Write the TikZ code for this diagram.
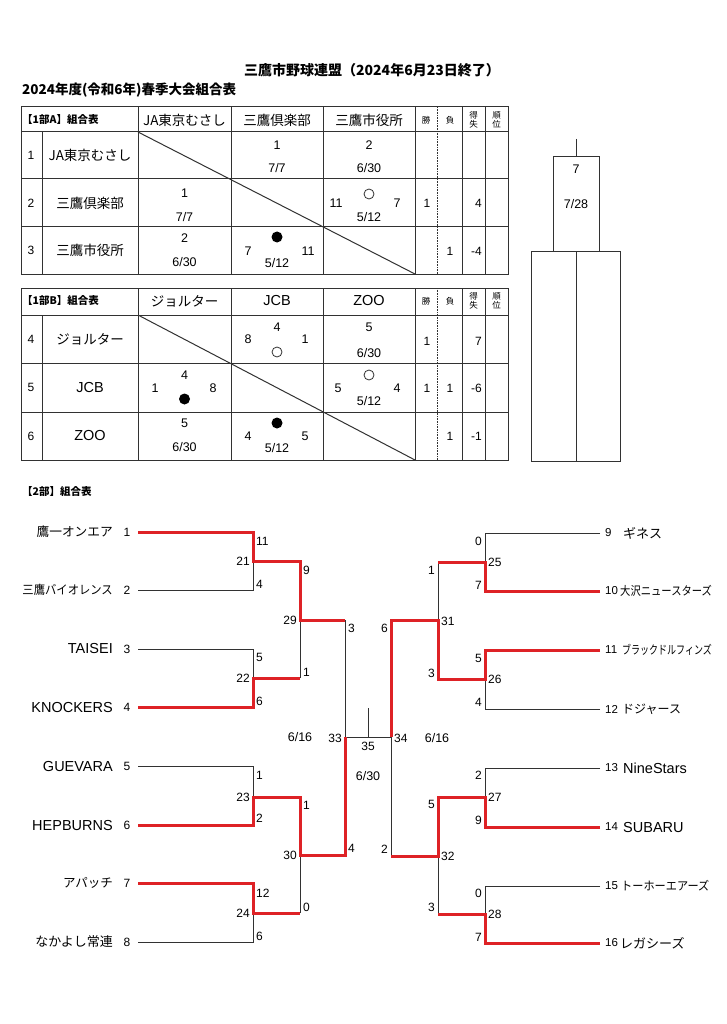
\documentclass[tikz,border=0pt]{standalone}
\usepackage{fontspec}
\setmainfont{Liberation Sans}
\newfontfamily\jp{Noto Sans CJK JP}
\definecolor{winred}{RGB}{222,34,38}
\definecolor{ink}{RGB}{50,50,50}
\newcommand{\cond}[2]{\scalebox{#1}[1]{#2}}
\begin{document}
\begin{tikzpicture}[x=1pt,y=-1pt,
  tline/.style={ink,line width=1pt},
  bline/.style={ink,line width=0.9pt},
  rline/.style={winred,line width=3pt,line join=miter},
  num/.style={inner sep=0pt,font=\fontsize{12}{13}\selectfont},
  tnum/.style={inner sep=0pt,font=\fontsize{11.5}{12}\selectfont},
  cnum/.style={inner sep=0pt,font=\fontsize{12.5}{13}\selectfont},
  jph/.style={inner sep=0pt,font=\jp\fontsize{13.5}{14}\selectfont},
  hdr/.style={inner sep=0pt,anchor=west,font=\jp\bfseries\fontsize{10.5}{11}\selectfont},
  tiny/.style={inner sep=0pt,font=\jp\fontsize{8.5}{9.5}\selectfont,align=center},
  lat/.style={inner sep=0pt,font=\fontsize{14.5}{15}\selectfont},
  opencirc/.style={circle,draw=ink,line width=0.8pt,minimum size=10pt,inner sep=0pt},
  fullcirc/.style={circle,fill=black,minimum size=11pt,inner sep=0pt},
]
\useasboundingbox (0,0) rectangle (727,1024);
\fill[white] (0,0) rectangle (727,1024);

% titles
\node[inner sep=0pt,font=\jp\bfseries\fontsize{14}{16}\selectfont] (title) at (372,70) {三鷹市野球連盟（2024年6月23日終了）};
\node[inner sep=0pt,anchor=west,font=\jp\bfseries\fontsize{13.5}{15}\selectfont] (sub) at (22,90) {2024年度(令和6年)春季大会組合表};

% ===== Table A =====
\draw[tline] (21,107) rectangle (508,274);
\foreach \yy in {132,179,227} \draw[tline] (21,\yy) -- (508,\yy);
\draw[tline] (42,132) -- (42,274);
\foreach \xx in {138,231,323,415,462,485} \draw[tline] (\xx,107) -- (\xx,274);
\draw[ink,line width=0.6pt,densely dotted] (437,107) -- (437,274);
\draw[tline] (138,132) -- (415,274);

\node[hdr] (ah) at (22,120) {【1部A】組合表};
\node[jph] (ac1) at (184.5,120) {JA東京むさし};
\node[jph] (ac2) at (277,120) {三鷹倶楽部};
\node[jph] (ac3) at (369,120) {三鷹市役所};
\node[tiny] (aw) at (426,120) {勝};
\node[tiny] (al) at (450,120) {負};
\node[tiny] (ad) at (473.5,120) {得\\[-1pt]失};
\node[tiny] (ar) at (496.5,120) {順\\[-1pt]位};
\node[num] (an1) at (31,155.5) {1};
\node[num] (an2) at (31,203) {2};
\node[num] (an3) at (31,250.5) {3};
\node[jph] (ar1) at (90,155.5) {JA東京むさし};
\node[jph] (ar2) at (90,203) {三鷹倶楽部};
\node[jph] (ar3) at (90,250.5) {三鷹市役所};
% row 1
\node[cnum] (a12a) at (277,145) {1};
\node[cnum] (a12b) at (277,168) {7/7};
\node[cnum] (a13a) at (369,145) {2};
\node[cnum] (a13b) at (369,168) {6/30};
% row 2
\node[cnum] (a21a) at (184.5,193) {1};
\node[cnum] (a21b) at (184.5,217) {7/7};
\node[opencirc] (a23c) at (369,194) {};
\node[cnum] (a23l) at (336,203) {11};
\node[cnum] (a23r) at (397,203) {7};
\node[cnum] (a23b) at (369,217) {5/12};
\node[num] (a2w) at (427,203) {1};
\node[num,anchor=east] (a2d) at (482,203) {4};
% row 3
\node[cnum] (a31a) at (184.5,238) {2};
\node[cnum] (a31b) at (184.5,262) {6/30};
\node[fullcirc] (a32c) at (277,237) {};
\node[cnum] (a32l) at (248,251) {7};
\node[cnum] (a32r) at (308,251) {11};
\node[cnum] (a32b) at (277,263) {5/12};
\node[num] (a3l) at (450,251) {1};
\node[num,anchor=east] (a3d) at (482,251) {-4};

% ===== Table B =====
\draw[tline] (21,288) rectangle (508,460);
\foreach \yy in {315,363,412} \draw[tline] (21,\yy) -- (508,\yy);
\draw[tline] (42,315) -- (42,460);
\foreach \xx in {138,231,323,415,462,485} \draw[tline] (\xx,288) -- (\xx,460);
\draw[ink,line width=0.6pt,densely dotted] (437,288) -- (437,460);
\draw[tline] (138,315) -- (415,460);

\node[hdr] (bh) at (22,301) {【1部B】組合表};
\node[jph] (bc1) at (184.5,301) {ジョルター};
\node[lat] (bc2) at (277,301) {JCB};
\node[lat] (bc3) at (369,301) {ZOO};
\node[tiny] (bw) at (426,301) {勝};
\node[tiny] (bl) at (450,301) {負};
\node[tiny] (bd) at (473.5,301) {得\\[-1pt]失};
\node[tiny] (br) at (496.5,301) {順\\[-1pt]位};
\node[num] (bn4) at (31,339) {4};
\node[num] (bn5) at (31,387.5) {5};
\node[num] (bn6) at (31,436) {6};
\node[jph] (br4) at (90,339) {ジョルター};
\node[lat] (br5) at (90,387.5) {JCB};
\node[lat] (br6) at (90,436) {ZOO};
% row 4
\node[cnum] (b45a) at (277,327) {4};
\node[cnum] (b45l) at (248,339) {8};
\node[cnum] (b45r) at (305,339) {1};
\node[opencirc] (b45c) at (277,352) {};
\node[cnum] (b46a) at (369,327) {5};
\node[cnum] (b46b) at (369,353) {6/30};
\node[num] (b4w) at (427,341) {1};
\node[num,anchor=east] (b4d) at (482,341) {7};
% row 5
\node[cnum] (b54a) at (184.5,375) {4};
\node[cnum] (b54l) at (155,388) {1};
\node[cnum] (b54r) at (213,388) {8};
\node[fullcirc] (b54c) at (184.5,399) {};
\node[opencirc] (b56c) at (369,375) {};
\node[cnum] (b56l) at (338,388) {5};
\node[cnum] (b56r) at (397,388) {4};
\node[cnum] (b56b) at (369,401) {5/12};
\node[num] (b5w) at (427,388) {1};
\node[num] (b5l) at (450,388) {1};
\node[num,anchor=east] (b5d) at (482,388) {-6};
% row 6
\node[cnum] (b64a) at (184.5,423) {5};
\node[cnum] (b64b) at (184.5,447) {6/30};
\node[fullcirc] (b65c) at (277,423) {};
\node[cnum] (b65l) at (248,436) {4};
\node[cnum] (b65r) at (305,436) {5};
\node[cnum] (b65b) at (277,448) {5/12};
\node[num] (b6l) at (450,436) {1};
\node[num,anchor=east] (b6d) at (482,436) {-1};

% ===== Final box =====
\coordinate (ftop) at (576,139);
\coordinate (fbox) at (576,157);
\draw[tline] (ftop) -- (fbox);
\draw[tline] (553,157) rectangle (599,251);
\draw[tline] (531,251) rectangle (620,461);
\draw[tline] (576,251) -- (576,461);
\node[cnum] (fsc) at (576,169) {7};
\node[cnum] (fdt) at (576,204) {7/28};

% ===== 2nd division bracket =====
\node[hdr] (ch) at (22,492) {【2部】組合表};

% left team names
\node[jph,anchor=east,font=\jp\fontsize{12.7}{13}\selectfont] (t1) at (113,532) {鷹一オンエア};
\node[jph,anchor=east,font=\jp\fontsize{12.3}{13}\selectfont] (t2) at (113,590) {\cond{0.92}{三鷹バイオレンス}};
\node[lat,anchor=east] (t3) at (113,649) {TAISEI};
\node[lat,anchor=east] (t4) at (113,707) {KNOCKERS};
\node[lat,anchor=east] (t5) at (113,766) {GUEVARA};
\node[lat,anchor=east] (t6) at (113,825) {HEPBURNS};
\node[jph,anchor=east,font=\jp\fontsize{12.5}{13}\selectfont] (t7) at (113,883) {アパッチ};
\node[jph,anchor=east,font=\jp\fontsize{13}{13}\selectfont] (t8) at (113,942) {なかよし常連};
\foreach \i/\yy in {1/532,2/590,3/649,4/707,5/766,6/825,7/883,8/942}
  \node[num] (n\i) at (127,\yy) {\i};
% right team names
\foreach \i/\yy in {9/533,10/591,11/650,12/709,13/768,14/827,15/886,16/943}
  \node[tnum,anchor=west] (n\i) at (605,\yy) {\i};
\node[jph,anchor=west,font=\jp\fontsize{13}{13}\selectfont] (t9) at (623,533) {ギネス};
\node[jph,anchor=west,font=\jp\fontsize{12}{12}\selectfont] (t10) at (620,591) {\cond{0.86}{大沢ニュースターズ}};
\node[jph,anchor=west,font=\jp\fontsize{12}{12}\selectfont] (t11) at (622,650) {\cond{0.75}{ブラックドルフィンズ}};
\node[jph,anchor=west,font=\jp\fontsize{12}{12}\selectfont] (t12) at (622,709) {ドジャース};
\node[lat,anchor=west] (t13) at (623,768) {NineStars};
\node[lat,anchor=west] (t14) at (623,827) {SUBARU};
\node[jph,anchor=west,font=\jp\fontsize{12}{12}\selectfont] (t15) at (621,886) {\cond{0.93}{トーホーエアーズ}};
\node[jph,anchor=west,font=\jp\fontsize{13}{14}\selectfont] (t16) at (620,943) {レガシーズ};

% line-end coordinates
\foreach \i/\yy in {1/532,2/590,3/649,4/707,5/766,6/825,7/883,8/942}
  \coordinate (e\i) at (138,\yy);
\foreach \i/\yy in {9/533,10/591,11/650,12/709,13/768,14/827,15/886,16/943}
  \coordinate (e\i) at (600,\yy);
\coordinate (m21) at (253,561);
\coordinate (m22) at (253,678);
\coordinate (m23) at (253,797);
\coordinate (m24) at (253,913);
\coordinate (m29) at (300,620);
\coordinate (m30) at (300,855);
\coordinate (m33) at (345,737);
\coordinate (m25) at (485,562);
\coordinate (m26) at (485,679);
\coordinate (m27) at (485,797);
\coordinate (m28) at (485,914);
\coordinate (m31) at (438,620);
\coordinate (m32) at (438,856);
\coordinate (m34) at (391,737);
\coordinate (m35) at (368,737);
\coordinate (m35t) at (368,708);

% black lines
\draw[bline] (e2) -| (m21);
\draw[bline] (e3) -| (m22);
\draw[bline] (m22 -| m29) -- (m29);
\draw[bline] (m29 -| m33) -- (m33);
\draw[bline] (e5) -| (m23);
\draw[bline] (e8) -| (m24);
\draw[bline] (m24 -| m30) -- (m30);
\draw[bline] (m33) -- (m34);
\draw[bline] (m35t) -- (m35);
\draw[bline] (e9) -| (m25);
\draw[bline] (e12) -| (m26);
\draw[bline] (m25 -| m31) -- (m31);
\draw[bline] (m34) -- (m32 -| m34);
\draw[bline] (e13) -| (m27);
\draw[bline] (e15) -| (m28);
\draw[bline] (m32) -- (m28 -| m32);

% red winner paths
\draw[rline] (e1) -| (m21) -- (m21 -| m29) -- (m29) -- (m29 -| m33);
\draw[rline] (e4) -| (m22) -- (m22 -| m29);
\draw[rline] (e6) -| (m23) -- (m23 -| m30) -- (m30) -- (m30 -| m33) -- (m33);
\draw[rline] (e7) -| (m24) -- (m24 -| m30);
\draw[rline] (e10) -| (m25) -- (m25 -| m31);
\draw[rline] (e11) -| (m26) -- (m26 -| m31) -- (m31) -- (m31 -| m34) -- (m34);
\draw[rline] (e14) -| (m27) -- (m27 -| m32) -- (m32) -- (m32 -| m34);
\draw[rline] (e16) -| (m28) -- (m28 -| m32);

% score labels, left
\node[num,anchor=west] (s1) at (256,541) {11};
\node[num,anchor=east] (s2) at (250,561) {21};
\node[num,anchor=west] (s3) at (256,584) {4};
\node[num,anchor=west] (s4) at (256,657) {5};
\node[num,anchor=east] (s5) at (250,678) {22};
\node[num,anchor=west] (s6) at (256,701) {6};
\node[num,anchor=west] (s7) at (303,570) {9};
\node[num,anchor=east] (s8) at (297,620) {29};
\node[num,anchor=west] (s9) at (303,672) {1};
\node[num,anchor=west] (s10) at (348,628) {3};
\node[num,anchor=west] (s11) at (256,775) {1};
\node[num,anchor=east] (s12) at (250,797) {23};
\node[num,anchor=west] (s13) at (256,818) {2};
\node[num,anchor=west] (s14) at (303,805) {1};
\node[num,anchor=east] (s15) at (297,855) {30};
\node[num,anchor=west] (s16) at (303,907) {0};
\node[num,anchor=west] (s17) at (348,848) {4};
\node[num,anchor=west] (s18) at (256,893) {12};
\node[num,anchor=east] (s19) at (250,913) {24};
\node[num,anchor=west] (s20) at (256,936) {6};
% center
\node[num,anchor=east] (s21) at (342,738) {33};
\node[cnum] (d1) at (300,737) {6/16};
\node[num] (s22) at (368,746) {35};
\node[num,anchor=west] (s23) at (394,738) {34};
\node[cnum] (d2) at (437,738) {6/16};
\node[cnum] (d3) at (368,776) {6/30};
% score labels, right
\node[num,anchor=east] (r1) at (482,541) {0};
\node[num,anchor=west] (r2) at (488,562) {25};
\node[num,anchor=east] (r3) at (482,585) {7};
\node[num,anchor=east] (r4) at (435,570) {1};
\node[num,anchor=west] (r5) at (441,621) {31};
\node[num,anchor=east] (r6) at (435,673) {3};
\node[num,anchor=east] (r7) at (388,628) {6};
\node[num,anchor=east] (r8) at (482,658) {5};
\node[num,anchor=west] (r9) at (488,679) {26};
\node[num,anchor=east] (r10) at (482,702) {4};
\node[num,anchor=east] (r11) at (482,775) {2};
\node[num,anchor=west] (r12) at (488,797) {27};
\node[num,anchor=east] (r13) at (482,820) {9};
\node[num,anchor=east] (r14) at (435,804) {5};
\node[num,anchor=west] (r15) at (441,856) {32};
\node[num,anchor=east] (r16) at (435,907) {3};
\node[num,anchor=east] (r17) at (388,849) {2};
\node[num,anchor=east] (r18) at (482,893) {0};
\node[num,anchor=west] (r19) at (488,914) {28};
\node[num,anchor=east] (r20) at (482,937) {7};
\end{tikzpicture}
\end{document}
